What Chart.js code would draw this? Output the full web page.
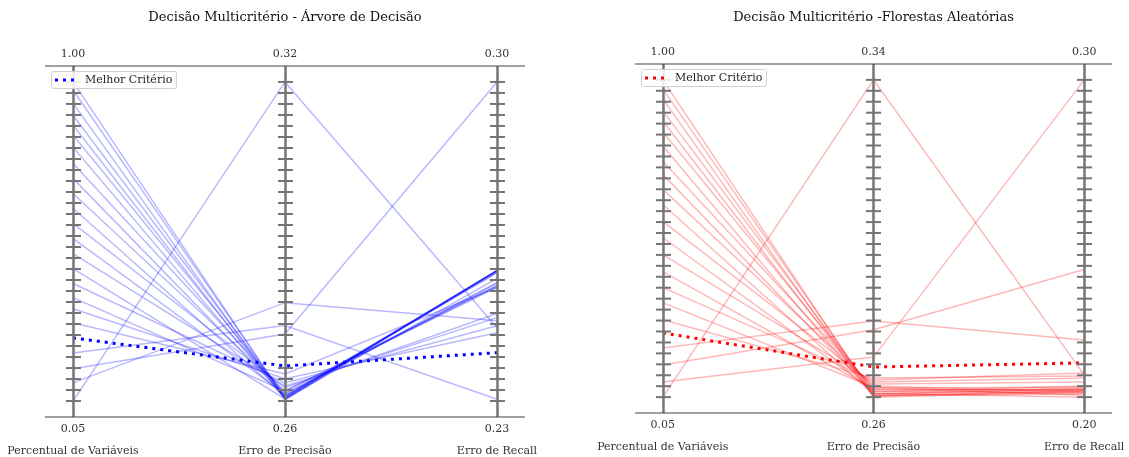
<!DOCTYPE html>
<html>
<head>
<meta charset="utf-8">
<script src="https://cdn.jsdelivr.net/npm/chart.js@4.4.1/dist/chart.umd.min.js"></script>
<style>
  html, body { margin:0; padding:0; background:#fff; }
  #wrap { position:relative; width:1129px; height:457px; overflow:hidden; }
  canvas { position:absolute; top:0; }
</style>
</head>
<body>
<div id="wrap">
  <canvas id="c1" width="565" height="457" style="left:0"></canvas>
  <canvas id="c2" width="564" height="457" style="left:565px"></canvas>
</div>
<script>
// ---------- DATA ----------
const criteria = ['Percentual de Variáveis', 'Erro de Precisão', 'Erro de Recall'];

// Árvore de Decisão
const dtTitle = 'Decisão Multicritério - Árvore de Decisão';
const dtAxisMin = [0.05, 0.26, 0.23];
const dtAxisMax = [1.00, 0.32, 0.30];
const dtPercVar = [1.000, 0.976, 0.937, 0.901, 0.872, 0.842, 0.806, 0.758, 0.713, 0.668, 0.624, 0.579, 0.534, 0.489, 0.444, 0.400, 0.358, 0.325, 0.283, 0.193, 0.146, 0.104, 0.050];
const dtErroPrec = [0.2604, 0.2606, 0.2602, 0.2608, 0.2604, 0.2611, 0.2606, 0.2615, 0.2609, 0.2619, 0.2608, 0.2625, 0.2613, 0.2628, 0.2604, 0.2634, 0.2619, 0.2642, 0.2651, 0.2742, 0.2726, 0.2785, 0.3200];
const dtErroRecall = [0.2586, 0.2586, 0.2586, 0.2582, 0.2586, 0.2560, 0.2586, 0.2553, 0.2582, 0.2549, 0.2586, 0.2492, 0.2558, 0.2483, 0.2569, 0.2465, 0.2553, 0.2450, 0.2549, 0.2304, 0.3000, 0.2476, 0.2461];
const dtBest = [0.238, 0.2666, 0.2406];

// Florestas Aleatórias
const rfTitle = 'Decisão Multicritério -Florestas Aleatórias';
const rfAxisMin = [0.05, 0.26, 0.20];
const rfAxisMax = [1.00, 0.34, 0.30];
const rfPercVar = [1.000, 0.973, 0.943, 0.907, 0.877, 0.844, 0.802, 0.756, 0.717, 0.672, 0.627, 0.576, 0.528, 0.477, 0.426, 0.378, 0.333, 0.282, 0.197, 0.146, 0.095, 0.050];
const rfErroPrec = [0.2603, 0.2608, 0.2600, 0.2613, 0.2605, 0.2618, 0.2603, 0.2623, 0.2610, 0.2628, 0.2608, 0.2633, 0.2615, 0.2638, 0.2620, 0.2643, 0.2625, 0.2648, 0.2792, 0.2770, 0.2701, 0.3400];
const rfErroRecall = [0.2022, 0.2029, 0.2016, 0.2035, 0.2010, 0.2025, 0.2019, 0.2032, 0.2000, 0.2016, 0.2025, 0.2048, 0.2013, 0.2060, 0.2022, 0.2076, 0.2006, 0.2067, 0.2180, 0.2402, 0.3000, 0.2070];
const rfBest = [0.242, 0.2676, 0.2108];

const legendLabel = 'Melhor Critério';
const tickCount = 30;

// ---------- BUILD ----------
function norm(v, i, mn, mx) { return (v - mn[i]) / (mx[i] - mn[i]); }

function makeChart(canvasId, cfg) {
  const datasets = [];
  for (let r = 0; r < cfg.cols[0].length; r++) {
    datasets.push({
      label: 'row' + r,
      data: [0, 1, 2].map(i => ({ x: i, y: norm(cfg.cols[i][r], i, cfg.min, cfg.max) })),
      borderColor: cfg.faint,
      borderWidth: 1.5,
      pointRadius: 0,
      fill: false,
      tension: 0
    });
  }
  datasets.push({
    label: legendLabel,
    data: [0, 1, 2].map(i => ({ x: i, y: norm(cfg.best[i], i, cfg.min, cfg.max) })),
    borderColor: cfg.strong,
    borderWidth: 3,
    borderDash: [3, 5],
    borderCapStyle: 'butt',
    pointRadius: 0,
    fill: false,
    tension: 0
  });

  const decor = {
    id: 'decor',
    afterDatasetsDraw(chart) {
      const { ctx, chartArea: a, scales: { x, y } } = chart;
      ctx.save();
      // vertical axes + ticks
      for (let i = 0; i < 3; i++) {
        const px = Math.round(x.getPixelForValue(i)) + 0.5;
        ctx.strokeStyle = '#747474';
        ctx.lineWidth = 2.5;
        ctx.beginPath(); ctx.moveTo(px, a.top); ctx.lineTo(px, a.bottom); ctx.stroke();
        ctx.lineWidth = 2;
        for (let k = 0; k < tickCount; k++) {
          const py = y.getPixelForValue(k / (tickCount - 1));
          ctx.beginPath(); ctx.moveTo(px - 7.5, py); ctx.lineTo(px + 7.5, py); ctx.stroke();
        }
      }
      // frame top/bottom
      ctx.strokeStyle = '#444';
      ctx.lineWidth = 1.2;
      ctx.beginPath(); ctx.moveTo(a.left, a.top); ctx.lineTo(a.right, a.top); ctx.stroke();
      ctx.beginPath(); ctx.moveTo(a.left, a.bottom); ctx.lineTo(a.right, a.bottom); ctx.stroke();
      // labels
      ctx.fillStyle = '#333';
      ctx.textAlign = 'center';
      ctx.textBaseline = 'middle';
      ctx.font = '11px "DejaVu Serif"';
      for (let i = 0; i < 3; i++) {
        const px = x.getPixelForValue(i);
        ctx.fillText(cfg.max[i].toFixed(2), px, a.top - 12);
        ctx.fillText(cfg.min[i].toFixed(2), px, a.bottom + 12.5);
        ctx.fillText(criteria[i], px, a.bottom + 34.5);
      }
      // title
      ctx.fillStyle = '#111';
      ctx.font = '13px "DejaVu Serif"';
      ctx.fillText(cfg.title, (a.left + a.right) / 2, 18);
      // legend
      const lx = a.left + 6, ly = a.top + 5, lw = 125, lh = 17;
      ctx.fillStyle = 'rgba(255,255,255,0.85)';
      ctx.strokeStyle = '#d0d0d0';
      ctx.lineWidth = 1;
      ctx.beginPath();
      if (ctx.roundRect) ctx.roundRect(lx + 0.5, ly + 0.5, lw, lh, 2); else ctx.rect(lx + 0.5, ly + 0.5, lw, lh);
      ctx.fill(); ctx.stroke();
      ctx.strokeStyle = cfg.strong;
      ctx.lineWidth = 3;
      ctx.setLineDash([3, 5]);
      ctx.beginPath(); ctx.moveTo(lx + 4, ly + lh / 2 + 0.5); ctx.lineTo(lx + 26, ly + lh / 2 + 0.5); ctx.stroke();
      ctx.setLineDash([]);
      ctx.fillStyle = '#222';
      ctx.textAlign = 'left';
      ctx.font = '11px "DejaVu Serif"';
      ctx.fillText(legendLabel, lx + 34, ly + lh / 2 + 0.5);
      ctx.restore();
    }
  };

  return new Chart(document.getElementById(canvasId), {
    type: 'line',
    data: { datasets },
    options: {
      responsive: false,
      animation: false,
      devicePixelRatio: 1,
      layout: { padding: cfg.pad },
      plugins: { legend: { display: false }, tooltip: { enabled: false }, title: { display: false } },
      scales: {
        x: { type: 'linear', min: -28 / 212, max: 2 + 28 / 212, display: false },
        y: { type: 'linear', min: -0.05, max: 1.05, display: false }
      }
    },
    plugins: [decor]
  });
}

makeChart('c1', {
  title: dtTitle, cols: [dtPercVar, dtErroPrec, dtErroRecall], best: dtBest,
  min: dtAxisMin, max: dtAxisMax,
  faint: 'rgba(0,0,255,0.28)', strong: 'rgb(0,0,255)',
  pad: { left: 45, right: 40, top: 66, bottom: 40 }
});
makeChart('c2', {
  title: rfTitle, cols: [rfPercVar, rfErroPrec, rfErroRecall], best: rfBest,
  min: rfAxisMin, max: rfAxisMax,
  faint: 'rgba(255,0,0,0.28)', strong: 'rgb(255,0,0)',
  pad: { left: 70, right: 17, top: 64, bottom: 44 }
});
</script>
</body>
</html>
